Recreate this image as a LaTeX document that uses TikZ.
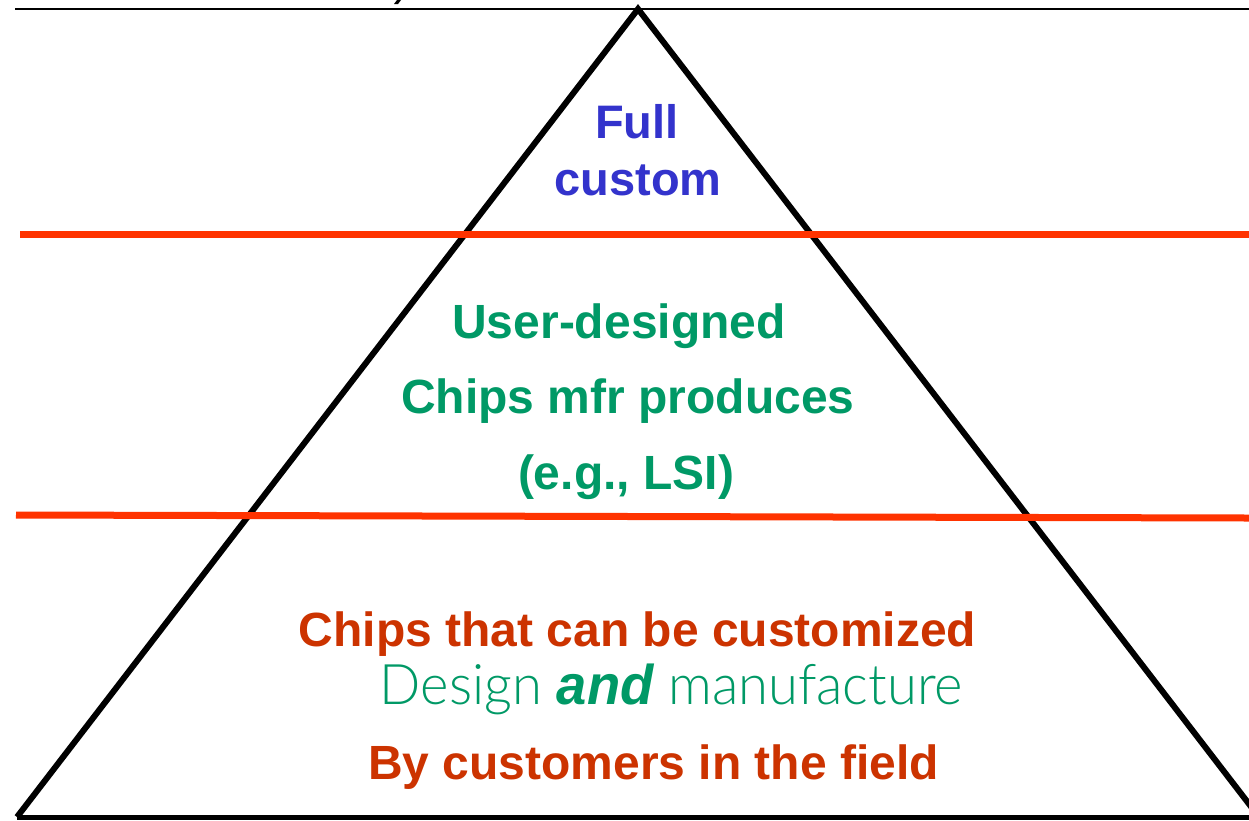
\documentclass[tikz,border=0pt]{standalone}
\usepackage{fontspec}
\usepackage{graphicx}
\setmainfont{Liberation Sans}
\newfontfamily\thinfont{Lato Light}
\definecolor{fullblue}{HTML}{3333CC}
\definecolor{midgreen}{HTML}{009966}
\definecolor{lowred}{HTML}{CC3300}
\definecolor{bandred}{HTML}{FF3300}
\tikzset{
  tri/.style={draw=black, line width=6pt, line join=miter},
  band/.style={draw=bandred, line width=7pt},
  rule/.style={draw=black, line width=2.4pt},
  lbl/.style={anchor=base, inner sep=0pt, font=\bfseries\fontsize{48}{57}\selectfont},
}
\begin{document}
\begin{tikzpicture}[x=1pt,y=-1pt]
\useasboundingbox (0,0) rectangle (1249,820);
\clip (0,0) rectangle (1249,820);
\fill[white] (0,0) rectangle (1249,820);
% frame lines
\coordinate (topL) at (15,9);
\coordinate (topR) at (1249,9);
\coordinate (apex) at (638,9);
\coordinate (baseL) at (17,817);
\coordinate (baseR) at (1259,817);
\coordinate (baseE) at (1249,817);
\coordinate (b1L) at (20,234);
\coordinate (b1R) at (1249,234);
\coordinate (b2L) at (16,515);
\coordinate (b2R) at (1249,518);
\draw[rule] (topL) -- (topR);
\fill[black] (394,4) -- (398,4) -- (401,0) -- (397,0) -- cycle;
\draw[tri] (baseL) -- (apex) -- (baseR);
\draw[black, line width=5pt] (baseL) -- (baseE);
\draw[band] (b1L) -- (b1R);
\draw[band] (b2L) -- (b2R);
% texts
\node[lbl, text=fullblue, font=\bfseries\fontsize{47}{55}\selectfont] (full) at (637,138) {Full};
\node[lbl, text=fullblue, font=\bfseries\fontsize{47}{55}\selectfont] (custom) at (638,195) {custom};
\node[lbl, text=midgreen] (user) at (619,338) {User-designed};
\node[lbl, text=midgreen] (chips) at (628,413) {Chips mfr produces};
\node[lbl, text=midgreen] (eg) at (626,489) {(e.g., LSI)};
\node[lbl, text=lowred] (can) at (637.5,646) {Chips that can be customized};
\node[anchor=base, inner sep=0pt, text=midgreen] (design) at (671.5,704)
  {\resizebox{583pt}{\height}{\thinfont\fontsize{56}{60}\selectfont Design {\rmfamily\bfseries\itshape and} manufacture}};
\node[lbl, text=lowred] (field) at (653.5,779) {By customers in the field};
\end{tikzpicture}
\end{document}
